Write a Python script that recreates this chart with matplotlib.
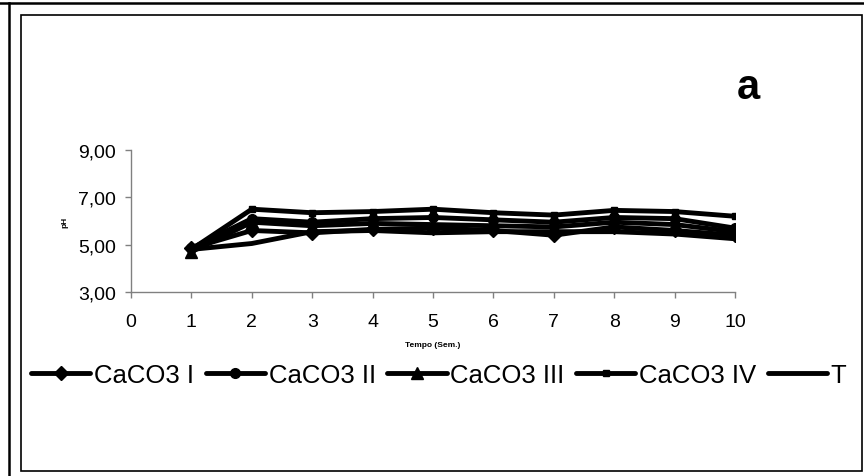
import matplotlib.pyplot as plt
from matplotlib.lines import Line2D
from matplotlib.patches import Rectangle

plt.rcParams['font.family'] = ['Liberation Sans', 'DejaVu Sans']

# Data
semanas = [1, 2, 3, 4, 5, 6, 7, 8, 9, 10]
caco3_i = [4.85, 5.60, 5.50, 5.65, 5.70, 5.60, 5.40, 5.75, 5.60, 5.40]
caco3_ii = [4.85, 6.10, 5.95, 6.10, 6.15, 6.05, 5.95, 6.15, 6.10, 5.70]
caco3_iii = [4.70, 5.95, 5.80, 5.90, 5.85, 5.80, 5.75, 5.95, 5.85, 5.55]
caco3_iv = [4.80, 6.50, 6.35, 6.40, 6.50, 6.35, 6.25, 6.45, 6.40, 6.20]
testemunha = [4.80, 5.05, 5.55, 5.60, 5.50, 5.55, 5.55, 5.55, 5.45, 5.25]

series = [
    ("CaCO3 I", caco3_i, 'D', 7),
    ("CaCO3 II", caco3_ii, 'o', 7),
    ("CaCO3 III", caco3_iii, '^', 8),
    ("CaCO3 IV", caco3_iv, 's', 4),
    ("T", testemunha, None, 0),
]
yticks = [3, 5, 7, 9]
ytick_labels = ["3,00", "5,00", "7,00", "9,00"]
xticks = list(range(0, 11))

fig = plt.figure(figsize=(8.64, 4.77), dpi=100)
ax = fig.add_axes([0.1516, 0.3857, 0.6991, 0.2977])

for nome, vals, mk, ms in series:
    ax.plot(semanas, vals, color='black', lw=3.5, marker=mk, ms=ms,
            label=nome, solid_joinstyle='round', solid_capstyle='round')

ax.set_xlim(0, 10)
ax.set_ylim(3, 9)
ax.set_yticks(yticks)
ax.set_yticklabels(ytick_labels)
ax.set_xticks(xticks)
ax.tick_params(axis='both', labelsize=14, length=4, width=1, color='#808080',
               direction='out')
ax.tick_params(axis='y', pad=7)
ax.tick_params(axis='x', pad=11)
for s in ['top', 'right']:
    ax.spines[s].set_visible(False)
for s in ['left', 'bottom']:
    ax.spines[s].set_color('#808080')
    ax.spines[s].set_linewidth(1)
ax.set_ylabel("pH", fontsize=6, fontweight='bold', labelpad=7)
ax.set_xlabel("Tempo (Sem.)", fontsize=6, fontweight='bold', labelpad=8)

fig.text(0.866, 0.815, "a", fontsize=30, fontweight='bold', ha='center', va='center')

handles, labels = ax.get_legend_handles_labels()
fig.legend(handles, labels, loc='center', bbox_to_anchor=(0.508, 0.212), ncol=5,
           frameon=False, fontsize=18.5, handlelength=2.3, handletextpad=0.15,
           columnspacing=0.45, borderaxespad=0)

# frames around the figure
fig.patches.append(Rectangle((21 / 864, 1 - 472 / 477), 841 / 864, 456 / 477,
                             transform=fig.transFigure, fill=False, ec='black', lw=1.2))
fig.lines.append(Line2D([0, 1], [1 - 4 / 477, 1 - 4 / 477], transform=fig.transFigure,
                        color='black', lw=1.8))
fig.lines.append(Line2D([9 / 864, 9 / 864], [0, 1 - 4 / 477], transform=fig.transFigure,
                        color='black', lw=1.8))

fig.savefig("out.png", dpi=100)
